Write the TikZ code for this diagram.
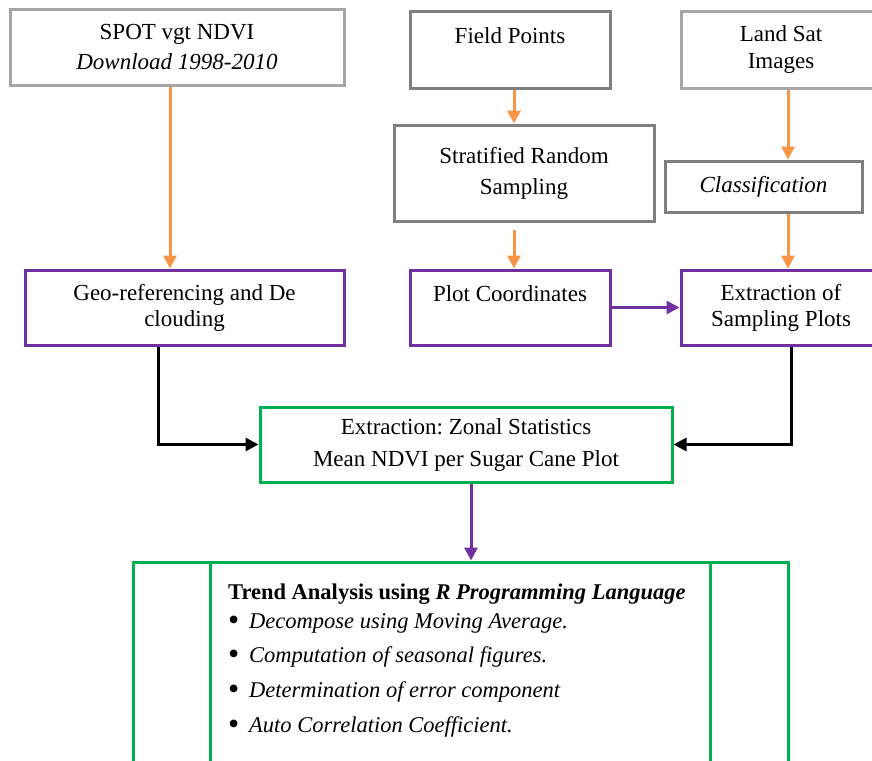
\documentclass[tikz,border=0pt]{standalone}
\usepackage{fontspec}
\setmainfont{Liberation Serif}
\usetikzlibrary{arrows.meta}
\definecolor{lightframe}{HTML}{A6A6A6}
\definecolor{darkframe}{HTML}{7F7F7F}
\definecolor{purpleframe}{HTML}{7030A0}
\definecolor{greenframe}{HTML}{00B050}
\definecolor{orangeflow}{HTML}{F79646}
\newcommand{\trendbullet}{\makebox[21pt][l]{\raisebox{-1.5pt}{\fontsize{32}{32}\selectfont\textbullet}}}
\tikzset{
	box/.style={draw, line width=3pt, inner sep=0pt, align=center, font=\fontsize{23}{28}\selectfont\frenchspacing},
	flow/.style={line width=3pt, -{Triangle[length=13pt,width=13pt]}},
}

\begin{document}
\begin{tikzpicture}[x=1pt,y=-1pt]
	\clip (0,0) rectangle (872,760);

	\node[box, draw=lightframe, minimum width=334pt, minimum height=75pt] (spot) at (177,47.5) {SPOT vgt NDVI\\[2pt]\textit{Download 1998-2010}};
	\node[box, draw=darkframe, minimum width=200pt, minimum height=76pt] (field) at (510,50) {Field Points\\~};
	\node[box, draw=lightframe, minimum width=200pt, minimum height=76pt] (landsat) at (781,50) {Land Sat\\[-1pt]Images};
	\node[box, draw=darkframe, minimum width=260pt, minimum height=96pt] (strat) at (524,173) {Stratified Random\\[3pt]Sampling};
	\node[box, draw=darkframe, minimum width=197pt, minimum height=51pt] (class) at (763.5,186.5) {\textit{Classification}};

	\node[box, draw=purpleframe, minimum width=319pt, minimum height=75pt] (geo) at (184.5,307.5) {Geo-referencing and De\\[-2pt]clouding};
	\node[box, draw=purpleframe, minimum width=200pt, minimum height=75pt] (plot) at (510,307.5) {Plot Coordinates\\~};
	\node[box, draw=purpleframe, minimum width=200pt, minimum height=75pt] (extr) at (781,307.5) {Extraction of\\[-2pt]Sampling Plots};

	\node[box, draw=greenframe, minimum width=412pt, minimum height=75pt] (zonal) at (466,444.5) {Extraction: Zonal Statistics\\[4pt]Mean NDVI per Sugar Cane Plot};

	\node[box, draw=greenframe, minimum width=655pt, minimum height=220pt] (trend) at (460.5,672) {};
	\draw[greenframe, line width=3pt] ([xshift=79pt]trend.north west) -- ([xshift=79pt]trend.south west);
	\draw[greenframe, line width=3pt] ([xshift=-79pt]trend.north east) -- ([xshift=-79pt]trend.south east);
	\node[anchor=north west, inner sep=0pt, align=left, font=\fontsize{22.5}{29}\selectfont] (trendtext) at (228,584) {\textbf{Trend Analysis using \textit{R Programming Language}}\\
		\trendbullet\textit{Decompose using Moving Average.}\\[5pt]
		\trendbullet\textit{Computation of seasonal figures.}\\[6pt]
		\trendbullet\textit{Determination of error component}\\[6pt]
		\trendbullet\textit{Auto Correlation Coefficient.}};

	\draw[flow, orangeflow] ([xshift=-7pt]spot.south) -- ([xshift=-7pt]spot.south |- geo.north);
	\draw[flow, orangeflow] ([xshift=4pt]field.south) -- ([xshift=4pt]field.south |- strat.north);
	\draw[flow, orangeflow] ([xshift=4pt]plot.north |- strat.south) ++(0,7) -- ([xshift=4pt]plot.north);
	\draw[flow, orangeflow] ([xshift=7pt]landsat.south) -- ([xshift=7pt]landsat.south |- class.north);
	\draw[flow, orangeflow] ([xshift=7pt]extr.north |- class.south) -- ([xshift=7pt]extr.north);
	\draw[flow, purpleframe] (plot.east) -- (extr.west);
	\draw[flow, black] ([xshift=-26pt]geo.south) |- (zonal.west);
	\draw[flow, black] ([xshift=10pt]extr.south) |- (zonal.east);
	\draw[flow, purpleframe] ([xshift=5pt]zonal.south) -- ([xshift=5pt]zonal.south |- trend.north);
\end{tikzpicture}
\end{document}
